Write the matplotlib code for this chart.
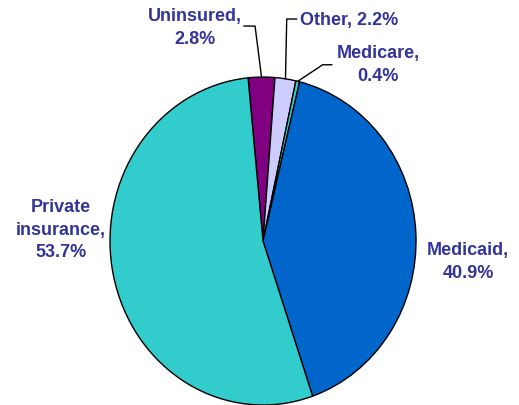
import numpy as np
import matplotlib.pyplot as plt

# slices, clockwise from the top
labels = ['Uninsured', 'Other', 'Medicare', 'Medicaid', 'Private\ninsurance']
shares = [2.8, 2.2, 0.4, 40.9, 53.7]
colors = ['#800080', '#CCCCFF', '#33CCCC', '#0066CC', '#33CCCC']

txt_color = '#333399'
font = dict(family='Liberation Sans', fontsize=13, fontweight='bold', color=txt_color)

fig = plt.figure(figsize=(5.19, 4.06), dpi=100)
ax = fig.add_axes([0, 0, 1, 1])

wedges, _ = ax.pie(shares, colors=colors, startangle=95.6, counterclock=False,
                   wedgeprops=dict(edgecolor='black', linewidth=1))

# slightly taller than wide, like the original
ax.set_aspect('auto')
ax.set_xlim(-1.719, 1.673)
ax.set_ylim(-1.0, 1.476)
ax.axis('off')


def edge_point(w):
    a = np.deg2rad((w.theta1 + w.theta2) / 2)
    return np.cos(a), np.sin(a)


# labels with leader lines for the thin slices
x0, y0 = edge_point(wedges[0])
ax.plot([x0, -0.052, -0.124], [y0, 1.311, 1.311], color='black', lw=1)
ax.text(-0.444, 1.305, 'Uninsured,\n2.8%', ha='center', va='center',
        multialignment='center', linespacing=1.45, **font)

x1, y1 = edge_point(wedges[1])
ax.plot([x1, 0.155, 0.220], [y1, 1.354, 1.354], color='black', lw=1)
ax.text(0.242, 1.354, 'Other, 2.2%', ha='left', va='center', **font)

x2, y2 = edge_point(wedges[2])
ax.plot([x2, 0.390, 0.449], [y2, 1.075, 1.075], color='black', lw=1)
ax.text(0.752, 1.079, 'Medicare,\n0.4%', ha='center', va='center',
        multialignment='center', linespacing=1.45, **font)

ax.text(-1.320, 0.073, 'Private\ninsurance,\n53.7%', ha='center', va='center',
        multialignment='center', linespacing=1.45, **font)
ax.text(1.340, -0.122, 'Medicaid,\n40.9%', ha='center', va='center',
        multialignment='center', linespacing=1.45, **font)

fig.savefig('out.png', dpi=100)
